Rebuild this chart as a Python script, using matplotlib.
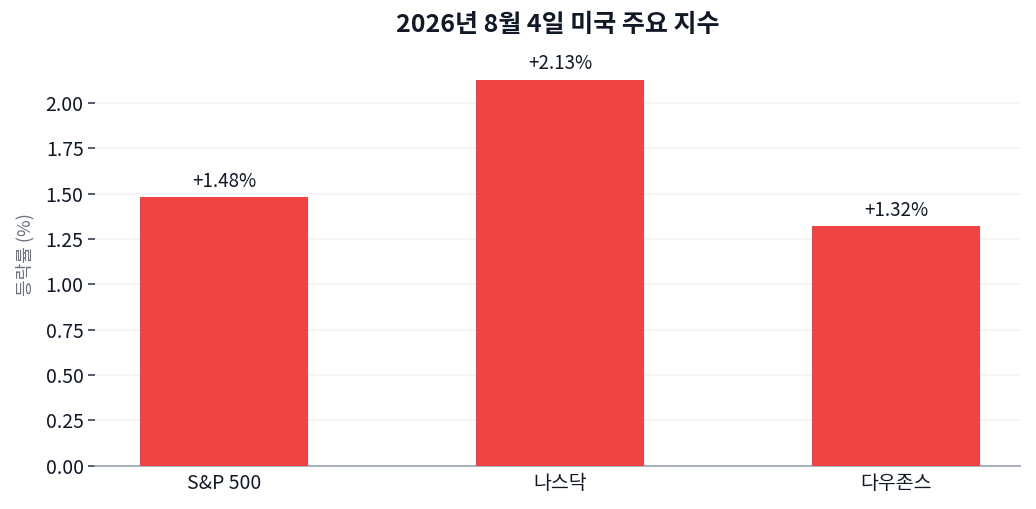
import matplotlib
matplotlib.use("Agg")
import matplotlib.pyplot as plt

plt.rcParams['font.family'] = ['Noto Sans CJK KR', 'DejaVu Sans']

# ── data ──────────────────────────────────────────────────────────────────────
indices = ["S&P 500", "나스닥", "다우존스"]
changes = [1.48, 2.13, 1.32]
title = "2026년 8월 4일 미국 주요 지수"

# ── plot ──────────────────────────────────────────────────────────────────────
fig, ax = plt.subplots(figsize=(10.36, 5.09), dpi=100)
fig.subplots_adjust(left=0.092, right=0.985, top=0.915, bottom=0.085)

x = range(len(indices))
bars = ax.bar(x, changes, width=0.5, color="#EF4444", zorder=3)
for xi, v in zip(x, changes):
    ax.annotate(f"+{v:.2f}%", (xi, v), xytext=(0, 4), textcoords="offset points",
                ha="center", va="bottom", fontsize=13.5, color="#111827")

ax.set_xticks(list(x))
ax.set_xticklabels(indices, fontsize=14, color="#111827")
ax.tick_params(axis="x", length=0, pad=5)
ax.tick_params(axis="y", labelsize=14, labelcolor="#111827", color="#374151",
               length=5, width=1.2)
ax.set_xlim(-0.384, 2.37)
ax.set_ylim(0, 2.33)
ax.set_yticks([0, 0.25, 0.5, 0.75, 1.0, 1.25, 1.5, 1.75, 2.0])
ax.set_ylabel("등락률 (%)", fontsize=13, color="#6b7280", labelpad=8)
ax.set_title(title, fontsize=18, fontweight="bold", color="#111827", pad=8)

ax.grid(axis="y", color="#f3f4f6", lw=1.2, zorder=0)
for s in ["top", "right", "left"]:
    ax.spines[s].set_visible(False)
ax.spines["bottom"].set_color("#9ca3af")
ax.spines["bottom"].set_linewidth(1.2)

plt.savefig("out.png", dpi=100)
